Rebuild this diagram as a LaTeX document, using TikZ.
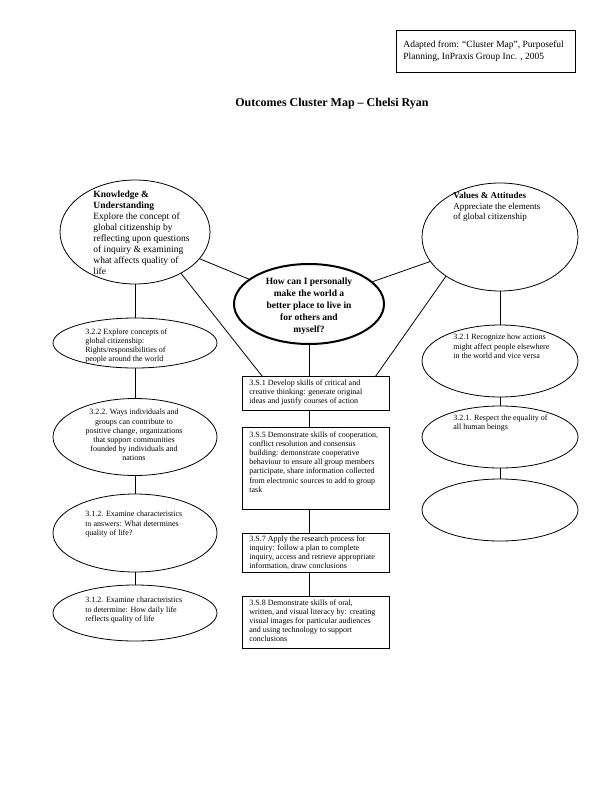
\documentclass[tikz,border=0pt]{standalone}
\usepackage{fontspec}
\setmainfont{Liberation Serif}
\usetikzlibrary{positioning,shapes.geometric,calc}

\begin{document}
\begin{tikzpicture}[x=1pt,y=-1pt,line width=0.8pt,
  oval/.style={draw,ellipse,inner sep=0pt},
  box/.style={draw,rectangle,inner sep=0pt,minimum width=147pt,anchor=north west},
  note/.style={align=left,inner sep=0pt,anchor=north west,font=\fontsize{8}{9.2}\selectfont}]
\useasboundingbox (0,0) rectangle (612,792);
% source and title
\node[draw,rectangle,inner sep=0pt,minimum width=179pt,minimum height=42pt,anchor=north west] (src) at (396,30) {};
\node[note,font=\fontsize{9.5}{12}\selectfont] (srct) at (403,40) {Adapted from: ``Cluster Map'', Purposeful\\Planning, InPraxis Group Inc. , 2005};
\node[font=\fontsize{12}{14}\selectfont\bfseries] (title) at (332,104) {Outcomes Cluster Map -- Chelsi Ryan};

% big ellipses
\node[oval,minimum width=150pt,minimum height=104pt] (know) at (135,232) {};
\node[oval,minimum width=156pt,minimum height=108pt] (vals) at (500,237) {};
\node[oval,line width=2pt,minimum width=150pt,minimum height=80pt] (hub) at (309,304) {};
\node[note,font=\fontsize{9.5}{11}\selectfont] (knowt) at (93,191) {\textbf{Knowledge \&}\\\textbf{Understanding}\\Explore the concept of\\global citizenship by\\reflecting upon questions\\of inquiry \& examining\\what affects quality of\\life};
\node[note,font=\fontsize{9}{10.5}\selectfont] (valst) at (453,192) {\textbf{Values \& Attitudes}\\Appreciate the elements\\of global citizenship};
\node[align=center,inner sep=0pt,font=\fontsize{9.5}{12}\selectfont\bfseries] (hubt) at (309,306) {How can I personally\\make the world a\\better place to live in\\for others and\\myself?};

% left column
\node[oval,minimum width=164pt,minimum height=50pt] (kA) at (135,343) {};
\node[oval,minimum width=164pt,minimum height=77pt] (kB) at (135,437) {};
\node[oval,minimum width=164pt,minimum height=78pt] (kC) at (135,533) {};
\node[oval,minimum width=164pt,minimum height=56pt] (kD) at (135,613) {};
\node[note] (kAt) at (85,328) {3.2.2 Explore concepts of\\global citizenship:\\Rights/responsibilities of\\people around the world};
\node[note,align=center,anchor=north] (kBt) at (134,409) {3.2.2. Ways individuals and\\groups can contribute to\\positive change, organizations\\that support communities\\founded by individuals and\\nations};
\node[note] (kCt) at (85,511) {3.1.2. Examine characteristics\\to answers: What determines\\quality of life?};
\node[note] (kDt) at (85,597) {3.1.2. Examine characteristics\\to determine: How daily life\\reflects quality of life};

% right column
\node[oval,minimum width=156pt,minimum height=72pt] (vA) at (500,361) {};
\node[oval,minimum width=156pt,minimum height=62pt] (vB) at (500,437) {};
\node[oval,minimum width=156pt,minimum height=62pt] (vC) at (500,510) {};
\node[note] (vAt) at (453,334) {3.2.1 Recognize how actions\\might affect people elsewhere\\in the world and vice versa};
\node[note] (vBt) at (453,414) {3.2.1. Respect the equality of\\all human beings};

% skills boxes
\node[box,minimum height=34pt] (s1) at (242,376) {};
\node[box,minimum height=82pt] (s5) at (242,427) {};
\node[box,minimum height=39pt] (s7) at (242,533) {};
\node[box,minimum height=52pt] (s8) at (242,596) {};
\node[note] (s1t) at (249,379) {3.S.1 Develop skills of critical and\\creative thinking: generate original\\ideas and justify courses of action};
\node[note] (s5t) at (249,431) {3.S.5 Demonstrate skills of cooperation,\\conflict resolution and consensus\\building: demonstrate cooperative\\behaviour to ensure all group members\\participate, share information collected\\from electronic sources to add to group\\task};
\node[note] (s7t) at (249,535) {3.S.7 Apply the research process for\\inquiry: follow a plan to complete\\inquiry, access and retrieve appropriate\\information, draw conclusions};
\node[note] (s8t) at (249,599) {3.S.8 Demonstrate skills of oral,\\written, and visual literacy by: creating\\visual images for particular audiences\\and using technology to support\\conclusions};

% connectors
\draw (know) -- (hub);
\draw (vals) -- (hub);
\draw (know.-42) -- ($(s1.north west)+(20,0)$);
\draw (vals.216) -- ($(s1.north east)+(-14,0)$);
\draw (hub.south) -- (hub.south |- s1.north);
\draw (hub.south |- s1.south) -- (hub.south |- s5.north);
\draw (hub.south |- s5.south) -- (hub.south |- s7.north);
\draw (hub.south |- s7.south) -- (hub.south |- s8.north);
\draw (know) -- (kA);
\draw (kA) -- (kB);
\draw (kB) -- (kC);
\draw (kC) -- (kD);
\draw (vals) -- (vA);
\draw (vA) -- (vB);
\draw (vB) -- (vC);
\end{tikzpicture}
\end{document}
